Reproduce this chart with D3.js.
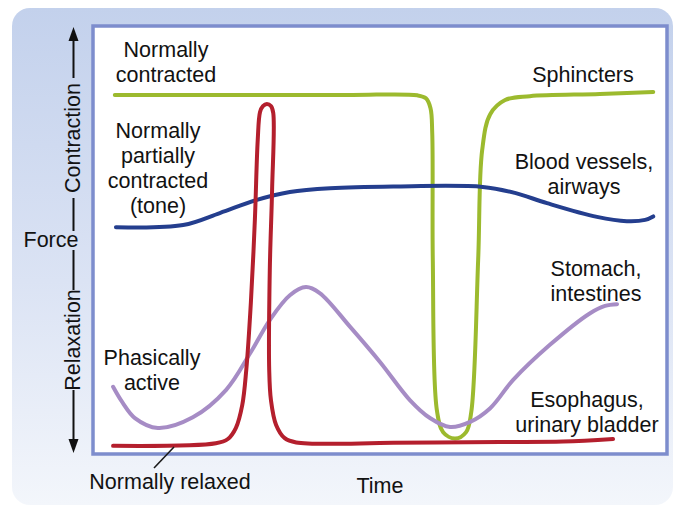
<!DOCTYPE html>
<html>
<head>
<meta charset="utf-8">
<script src="https://cdn.jsdelivr.net/npm/d3@7"></script>
<style>
  html, body { margin: 0; padding: 0; background: #ffffff; }
  svg { display: block; }
  text { font-family: "Liberation Sans", Arial, Helvetica, sans-serif; fill: #121212; }
</style>
</head>
<body>
<svg id="chart" width="679" height="507"></svg>
<script>
// ---- Data (time units 0-100, force units 0-100) ----
const sphincters = [
  [3.8, 83.9], [27.4, 83.9], [45.0, 83.9], [56.5, 83.8], [58.0, 83.1], [58.8, 80.8], [59.1, 75.0],
  [59.2, 45.3], [59.9, 10.3], [61.0, 5.1], [63.1, 3.6], [65.0, 5.1], [65.9, 9.8],
  [67.1, 45.3], [67.8, 71.0], [69.2, 79.4], [71.8, 82.7], [76.1, 83.6], [88.3, 84.1], [97.6, 84.6]
];
const bloodVessels = [
  [4.0, 53.0], [15.7, 53.5], [22.1, 56.3], [28.4, 59.3], [34.3, 61.2], [41.3, 62.1],
  [52.3, 62.5], [67.9, 62.4], [73.5, 61.0], [79.1, 58.6], [87.8, 55.4], [93.0, 54.4],
  [96.2, 54.7], [97.6, 55.5]
];
const stomach = [
  [3.5, 15.7], [5.1, 12.1], [7.3, 8.4], [11.3, 6.1], [17.4, 8.6], [23.2, 15.0],
  [27.4, 23.6], [30.8, 31.3], [34.3, 37.1], [37.1, 39.0], [39.5, 37.6], [44.8, 29.7],
  [50.0, 21.5], [55.2, 12.6], [58.7, 8.4], [62.2, 6.3], [65.7, 7.5], [69.2, 10.7],
  [73.2, 17.3], [79.6, 25.5], [86.6, 32.9], [89.2, 34.6], [91.3, 35.0]
];
const esophagus = [
  [3.5, 1.9], [21.4, 2.5], [23.5, 3.5], [24.9, 6.1], [26.0, 11.4], [26.7, 19.6],
  [27.5, 35.3], [28.2, 54.7], [28.7, 73.4], [29.1, 79.9], [29.6, 81.3], [30.3, 81.8],
  [31.0, 81.3], [31.4, 79.7], [31.2, 61.7], [30.8, 43.0], [30.7, 19.6], [31.0, 12.6],
  [31.9, 6.8], [33.4, 3.7], [35.4, 2.7], [52.3, 2.6], [70.9, 2.8], [81.9, 2.9], [90.6, 3.5]
];
const seriesNames = ["Sphincters", "Blood vessels", "Stomach", "Esophagus"];
const seriesColors = ["#9cba2e", "#243e8e", "#a68cc5", "#b41f2d"];

// Text labels
const curveLabels = [
  { lines: ["Normally", "contracted"], x: 166, y: 57 },
  { lines: ["Normally", "partially", "contracted", "(tone)"], x: 158, y: 138 },
  { lines: ["Phasically", "active"], x: 152, y: 365 },
  { lines: ["Sphincters"], x: 583, y: 82 },
  { lines: ["Blood vessels,", "airways"], x: 584, y: 169 },
  { lines: ["Stomach,", "intestines"], x: 596, y: 276 },
  { lines: ["Esophagus,", "urinary bladder"], x: 587, y: 407 }
];
const axisLabels = { y: "Force", up: "Contraction", down: "Relaxation", x: "Time" };

// ---- Drawing ----
const svg = d3.select("#chart");
const box = { left: 93, right: 667, top: 26, bottom: 454 };

const defs = svg.append("defs");
const grad = defs.append("linearGradient").attr("id", "bg").attr("x1", 0).attr("y1", 0).attr("x2", 0).attr("y2", 1);
grad.append("stop").attr("offset", "0%").attr("stop-color", "#c3d1ec");
grad.append("stop").attr("offset", "55%").attr("stop-color", "#dbe3f4");
grad.append("stop").attr("offset", "100%").attr("stop-color", "#f3f6fb");

svg.append("rect").attr("x", 12).attr("y", 8).attr("width", 661).attr("height", 497)
  .attr("rx", 18).attr("fill", "url(#bg)");

svg.append("rect").attr("x", box.left).attr("y", box.top)
  .attr("width", box.right - box.left).attr("height", box.bottom - box.top)
  .attr("fill", "#ffffff").attr("stroke", "#7d8dcd").attr("stroke-width", 3.5);

const x = d3.scaleLinear().domain([0, 100]).range([box.left, box.right]);
const y = d3.scaleLinear().domain([0, 100]).range([box.bottom, box.top]);

const line = d3.line().x(d => x(d[0])).y(d => y(d[1])).curve(d3.curveCatmullRom.alpha(0.5));

[sphincters, bloodVessels, stomach, esophagus].forEach((s, i) => {
  svg.append("path").datum(s).attr("d", line)
    .attr("fill", "none").attr("stroke", seriesColors[i])
    .attr("stroke-width", 4).attr("stroke-linecap", "round").attr("stroke-linejoin", "round")
    .attr("class", "series").attr("data-name", seriesNames[i]);
});

// labels
curveLabels.forEach(l => {
  const t = svg.append("text").attr("text-anchor", "middle").attr("font-size", 21.5);
  l.lines.forEach((s, i) => {
    t.append("tspan").attr("x", l.x).attr("y", l.y + i * 25).text(s);
  });
});

// Normally relaxed label + leader
svg.append("line").attr("x1", 174).attr("y1", 447).attr("x2", 154).attr("y2", 468)
  .attr("stroke", "#1a1a1a").attr("stroke-width", 1.6);
svg.append("text").attr("x", 170).attr("y", 489).attr("text-anchor", "middle")
  .attr("font-size", 21.5).text("Normally relaxed");

// x-axis title
svg.append("text").attr("x", 380).attr("y", 493).attr("text-anchor", "middle")
  .attr("font-size", 21.5).text(axisLabels.x);

// y-axis: Force with arrows
const ax = 73.5;
const g = svg.append("g");
g.append("text").attr("x", 51).attr("y", 247).attr("text-anchor", "middle").attr("font-size", 21.5).text(axisLabels.y);
g.append("text").attr("transform", `translate(${ax + 6},138) rotate(-90)`).attr("text-anchor", "middle")
  .attr("font-size", 21.5).text(axisLabels.up);
g.append("text").attr("transform", `translate(${ax + 6},340) rotate(-90)`).attr("text-anchor", "middle")
  .attr("font-size", 21.5).text(axisLabels.down);
const segs = [[39, 78], [198, 231], [250, 290], [390, 441]];
segs.forEach(s => g.append("line").attr("x1", ax).attr("x2", ax).attr("y1", s[0]).attr("y2", s[1])
  .attr("stroke", "#111").attr("stroke-width", 2));
g.append("path").attr("d", `M${ax},27 L${ax - 5},41 L${ax + 5},41 Z`).attr("fill", "#111");
g.append("path").attr("d", `M${ax},453 L${ax - 5},439 L${ax + 5},439 Z`).attr("fill", "#111");
</script>
</body>
</html>
